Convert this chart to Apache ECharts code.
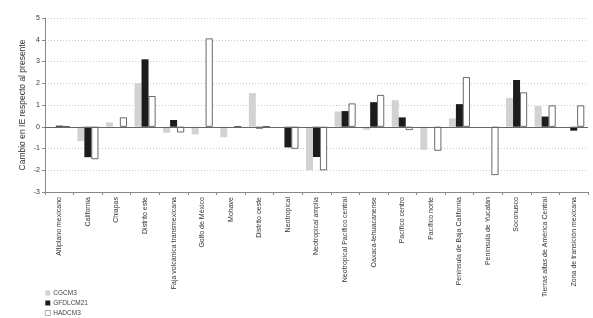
<!DOCTYPE html>
<html>
<head>
<meta charset="utf-8">
<script src="https://cdn.jsdelivr.net/npm/echarts@6/dist/echarts.min.js"></script>
<style>
  html, body { margin: 0; padding: 0; background: #fff; }
  #chart { width: 593px; height: 318px; }
</style>
</head>
<body>
<div id="chart"></div>
<script>
// regiones biogeograficas
var regiones = ['Altiplano mexicano', 'California', 'Chiapas', 'Distrito este',
    'Faja volcánica transmexicana', 'Golfo de México', 'Mohave', 'Distrito oeste',
    'Neotropical', 'Neotropical amplia', 'Neotropical Pacífico central',
    'Oaxaca-tehuacanense', 'Pacífico centro', 'Pacífico norte',
    'Península de Baja California', 'Península de Yucatán', 'Soconusco',
    'Tierras altas de América Central', 'Zona de transición mexicana'];

// cambio en IE por modelo
var cgcm3 = [0, -0.66, 0.2, 2.0, -0.28, -0.35, -0.48, 1.55, 0, -2.0, 0.7, -0.14,
    1.22, -1.06, 0.38, 0, 1.33, 0.95, 0];
var gfdlcm21 = [0.05, -1.4, 0, 3.1, 0.31, 0, 0, -0.08, -0.95, -1.39, 0.72, 1.13,
    0.43, 0, 1.04, 0, 2.15, 0.47, -0.18];
var hadcm3 = [0, -1.49, 0.43, 1.41, -0.26, 4.06, 0, 0, -1.01, -2.0, 1.07, 1.46,
    -0.15, -1.1, 2.28, -2.22, 1.58, 0.98, 0.98];

var yTicks = { min: -3, max: 5, interval: 1 };

var myChart = echarts.init(document.getElementById('chart'));

var fuente = 'Liberation Sans';

var option = {
    animation: false,
    textStyle: { fontFamily: fuente },
    grid: { left: 45, right: 5, top: 18, bottom: 126 },
    legend: {
        orient: 'vertical',
        left: 45,
        top: 289,
        height: 30,
        padding: 0,
        itemWidth: 5,
        itemHeight: 5,
        itemGap: 2,
        icon: 'rect',
        textStyle: { fontSize: 6.5, lineHeight: 8, color: '#444', fontFamily: fuente, padding: [0, 0, 0, -2] },
        data: ['CGCM3', 'GFDLCM21', {
            name: 'HADCM3',
            itemStyle: { borderWidth: 0.6, borderColor: '#777' }
        }]
    },
    xAxis: {
        type: 'category',
        data: regiones,
        axisLine: { onZero: false, lineStyle: { color: '#888', width: 1 } },
        axisTick: { show: true, length: 3, lineStyle: { color: '#888' } },
        axisLabel: {
            rotate: 90,
            fontSize: 7,
            color: '#333',
            margin: 5,
            fontFamily: fuente
        },
        splitLine: { show: false }
    },
    yAxis: {
        type: 'value',
        min: yTicks.min,
        max: yTicks.max,
        interval: yTicks.interval,
        name: 'Cambio en IE respecto al presente',
        nameLocation: 'middle',
        nameGap: 18,
        nameMoveOverlap: false,
        nameTextStyle: { fontSize: 8.5, color: '#333', fontFamily: fuente },
        axisLine: { show: true, lineStyle: { color: '#888' } },
        axisTick: { show: true, length: 3, lineStyle: { color: '#888' } },
        axisLabel: { fontSize: 7, color: '#333', margin: 5, fontFamily: fuente },
        splitLine: { show: true, lineStyle: { color: '#ccc', type: [1, 2] } }
    },
    series: [{
        name: 'CGCM3',
        type: 'bar',
        data: cgcm3,
        barWidth: 7,
        barGap: '0%',
        itemStyle: { color: '#d2d2d2' },
        markLine: {
            silent: true,
            symbol: 'none',
            label: { show: false },
            lineStyle: { color: '#666', type: 'solid', width: 1 },
            data: [{ yAxis: 0 }]
        }
    }, {
        name: 'GFDLCM21',
        type: 'bar',
        data: gfdlcm21,
        barWidth: 7,
        barGap: '0%',
        itemStyle: { color: '#1c1c1c' }
    }, {
        name: 'HADCM3',
        type: 'bar',
        data: hadcm3,
        barWidth: 7,
        barGap: '0%',
        itemStyle: { color: '#fff', borderColor: '#444', borderWidth: 0.8 }
    }]
};

myChart.setOption(option);
</script>
</body>
</html>
